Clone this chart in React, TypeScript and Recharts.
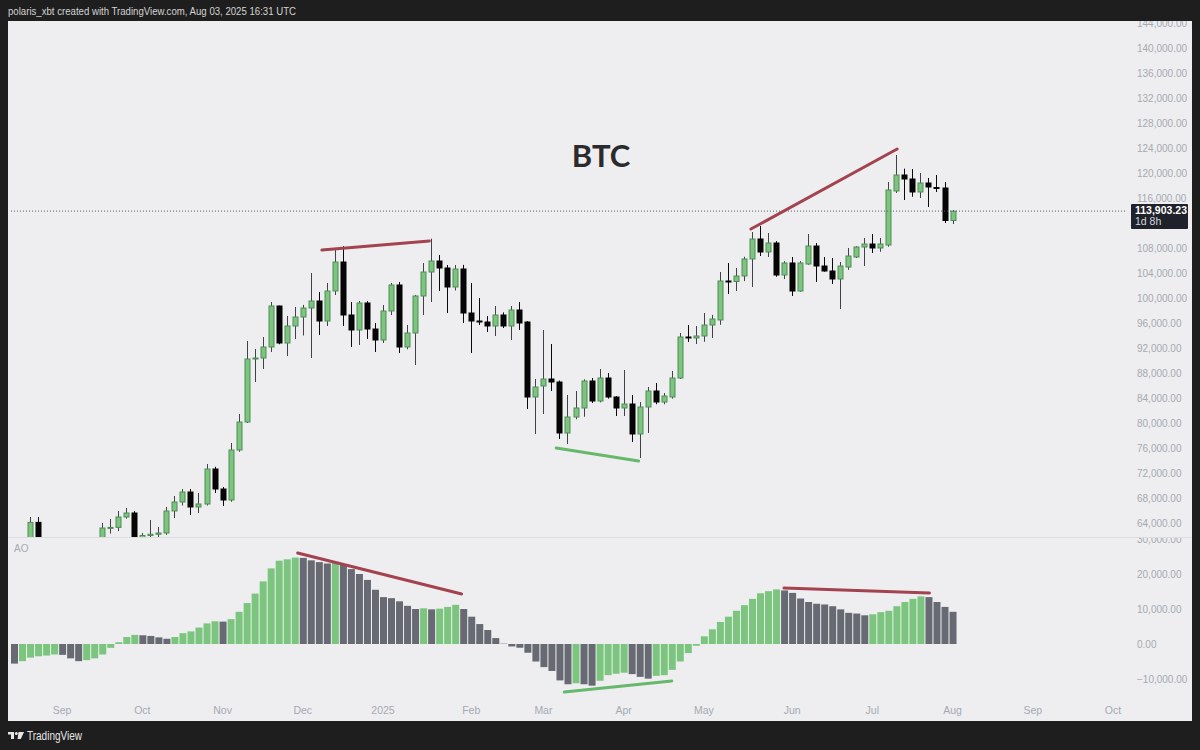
import React from 'react';
import { ComposedChart, Bar, XAxis, YAxis, ReferenceLine, Cell } from 'recharts';

// 3-day BTC candles, first one opens 2024-08-16
const OPEN = [
  57600, 58400, 61200, 64100, 59400, 59100, 59100, 56200, 54900, 57600,
  60000, 60300, 63200, 63300, 64960, 65600, 60600, 62000, 62200, 62400,
  65920, 67360, 68960, 66560, 67040, 72640, 69440, 67680, 75680, 80160,
  90240, 90400, 92160, 98720, 92800, 95520, 96960, 98400, 99520, 96320,
  101120, 105760, 97280, 94880, 99200, 95040, 93280, 97920, 102080, 92160,
  94400, 100320, 104160, 105920, 104800, 101760, 104640, 97600, 96320, 96160,
  95520, 97280, 95520, 98080, 96160, 84160, 85920, 87040, 86560, 78400,
  80960, 82400, 86720, 83520, 87200, 84160, 82400, 83040, 78240, 82560,
  85120, 83360, 84160, 87200, 93760, 93600, 93920, 95680, 96480, 102720,
  102640, 103520, 106240, 109440, 107360, 108800, 103680, 105600, 101120, 105440,
  108320, 105120, 104320, 103040, 104960, 106560, 108160, 108640, 108000, 108480,
  117120, 119680, 119040, 116960, 118400, 117680, 117600, 112400,
];
const HIGH = [
  60200, 61500, 64960, 64960, 61200, 59400, 59800, 56900, 58000, 60700,
  61400, 64000, 64640, 65920, 66400, 65900, 62400, 64480, 63360, 66560,
  68320, 69440, 69440, 68800, 73440, 73000, 69760, 76800, 81440, 93120,
  91840, 93760, 99360, 98800, 97120, 98560, 98900, 104000, 100960, 102400,
  108000, 108300, 99360, 99520, 99500, 96000, 98880, 102400, 102560, 95680,
  100480, 105600, 109500, 106880, 105280, 105280, 105300, 102400, 100000, 97100,
  98720, 97700, 98720, 99360, 96300, 87040, 94880, 92640, 86800, 84480,
  85120, 87000, 87200, 88640, 88000, 84300, 88480, 84480, 83360, 85760,
  86400, 84800, 88320, 94400, 95680, 95520, 97600, 97300, 104160, 105600,
  104800, 106600, 110560, 111520, 110400, 109100, 105900, 106560, 105900, 110240,
  108800, 106560, 106400, 105760, 108000, 108300, 109600, 110240, 109600, 118560,
  122880, 120700, 120640, 120000, 119200, 119680, 118560, 114080,
];
const LOW = [
  57100, 58000, 60800, 58200, 57900, 57200, 55600, 52600, 54600, 57400,
  57600, 59400, 62300, 62700, 64700, 60200, 59900, 61700, 60300, 62100,
  64800, 66800, 65280, 65600, 66800, 68800, 66720, 67400, 75400, 80000,
  86560, 88640, 91360, 92600, 90720, 93440, 94000, 90400, 94080, 95520,
  100480, 95520, 92160, 92480, 93440, 91360, 92800, 97280, 91200, 91800,
  89280, 97280, 99360, 101120, 97600, 101200, 96000, 91200, 95680, 94560,
  93920, 95200, 93280, 94880, 82240, 78240, 81440, 85120, 77440, 76640,
  80600, 81000, 83200, 83300, 83900, 81120, 81120, 76960, 74400, 78400,
  83000, 83000, 83900, 87040, 92960, 92640, 93000, 93600, 95700, 100640,
  101120, 102700, 101760, 106720, 106560, 103400, 103040, 100320, 101000, 105300,
  102560, 104200, 102240, 98240, 104500, 106400, 105120, 107200, 107400, 108200,
  116800, 115680, 116200, 116000, 114560, 116960, 112000, 111840,
];
const CLOSE = [
  58400, 61200, 64100, 59400, 59100, 59100, 56200, 54900, 57600, 60000,
  60300, 63200, 63300, 64960, 65600, 60600, 62000, 62200, 62400, 65920,
  67360, 68960, 66560, 67040, 72640, 69440, 67680, 75680, 80160, 90240,
  90400, 92160, 98720, 92800, 95520, 96960, 98400, 99520, 96320, 101120,
  105760, 97280, 94880, 99200, 95040, 93280, 97920, 102080, 92160, 94400,
  100320, 104160, 105920, 104800, 101760, 104640, 97600, 96320, 96160, 95520,
  97280, 95520, 98080, 96000, 84160, 85760, 87040, 86560, 78400, 80960,
  82400, 86720, 83520, 87200, 84160, 82400, 83040, 78240, 82560, 85120,
  83360, 84320, 87200, 93760, 93600, 93920, 95680, 96640, 102720, 102640,
  103520, 106240, 109440, 107360, 108800, 103680, 105600, 101120, 105600, 108320,
  105120, 104320, 103040, 105120, 106720, 108160, 108640, 108000, 108640, 117280,
  119680, 119040, 116960, 118400, 117760, 117600, 112400, 113903.23,
];

// Awesome Oscillator values, one per candle
const AO = [
  -5600, -4900, -3900, -3500, -3300, -3000, -3100, -4100, -4900, -4600,
  -4100, -3000, -1100, 500, 2000, 2600, 2500, 2300, 1900, 1500,
  2000, 3100, 3600, 4700, 5900, 6500, 6400, 7100, 9200, 11700,
  14400, 17900, 21600, 23800, 24200, 24700, 24600, 23900, 23400, 23000,
  23200, 22800, 21400, 20000, 18300, 15500, 13400, 13100, 12200, 10900,
  10000, 10200, 9900, 10100, 10600, 11200, 10000, 7800, 5700, 4000,
  1700, 100, -700, -1100, -2500, -5000, -6600, -7700, -10400, -11500,
  -11200, -11500, -11900, -10500, -8900, -8500, -8200, -8600, -9400, -9900,
  -9100, -8900, -7400, -5000, -2600, -500, 2200, 4200, 6300, 7800,
  9500, 11100, 12900, 14500, 15100, 15600, 15300, 14600, 13000, 12000,
  11500, 11300, 10800, 9900, 8900, 8700, 8200, 8500, 9100, 9500,
  10800, 12000, 12900, 13600, 13400, 12000, 10600, 9200,
];

const LAST_PRICE = 113903.23;
const LAST_PRICE_LABEL = '113,903.23';
const COUNTDOWN = '1d 8h';

const PRICE_TICKS = [
  64000, 68000, 72000, 76000, 80000, 84000, 88000, 92000, 96000, 100000, 104000,
  108000, 116000, 120000, 124000, 128000, 132000, 136000, 140000, 144000,
];
const AO_TICKS = [-10000, 0, 10000, 20000, 30000];

const MONTH_STARTS = [
  [2024, 8], [2024, 9], [2024, 10], [2024, 11], [2025, 0], [2025, 1], [2025, 2],
  [2025, 3], [2025, 4], [2025, 5], [2025, 6], [2025, 7], [2025, 8], [2025, 9],
];
const MONTH_LABELS = ['Sep', 'Oct', 'Nov', 'Dec', '2025', 'Feb', 'Mar', 'Apr', 'May', 'Jun', 'Jul', 'Aug', 'Sep', 'Oct'];

// trend lines, x in bar index units
const PRICE_LINES = [
  { x1: 38.6, y1: 107680, x2: 51.9, y2: 109120, color: '#a3434f' },
  { x1: 91.7, y1: 111040, x2: 109.8, y2: 123840, color: '#a3434f' },
  { x1: 67.6, y1: 76000, x2: 77.8, y2: 73920, color: '#66b86a' },
];
const AO_LINES = [
  { x1: 35.6, y1: 26000, x2: 55.9, y2: 14290, color: '#a3434f' },
  { x1: 95.8, y1: 16000, x2: 113.8, y2: 14570, color: '#a3434f' },
  { x1: 68.6, y1: -13710, x2: 81.9, y2: -10570, color: '#66b86a' },
];

const START = Date.UTC(2024, 7, 16);
const DAY = 86400000;
const SLOTS = 139;

const rows = Array.from({ length: SLOTS }, (_, i) => {
  const t = START + i * 3 * DAY;
  const date = new Date(t).toISOString().slice(0, 10);
  if (i >= OPEN.length) return { date, t };
  return {
    date,
    t,
    open: OPEN[i],
    high: HIGH[i],
    low: LOW[i],
    close: CLOSE[i],
    ao: AO[i],
    aoUp: i > 0 && AO[i] > AO[i - 1],
  };
});

const monthTickMap = new Map<string, string>();
MONTH_STARTS.forEach(([y, m], k) => {
  const ms = Date.UTC(y, m, 1);
  const row = rows.find((r) => r.t >= ms);
  if (row) monthTickMap.set(row.date, MONTH_LABELS[k]);
});
const MONTH_TICKS = Array.from(monthTickMap.keys());

const AXIS_TEXT = '#a6a9b0';
const FONT = '"Liberation Sans", Arial, sans-serif';
const GREEN = '#7cc57f';
const GREEN_EDGE = '#4e8c56';
const GREY_BAR = '#676a72';

const fmt = (v: number) =>
  v.toLocaleString('en-US', { minimumFractionDigits: 2, maximumFractionDigits: 2 }).replace('-', '\u2212');

function Candle(props: any) {
  const { x, y, width, height, payload } = props;
  if (!payload || payload.open == null || !Number.isFinite(y) || !Number.isFinite(height)) return <g />;
  const top = Math.min(y, y + height);
  const bot = Math.max(y, y + height);
  const span = payload.high - payload.low || 1;
  const toY = (v: number) => top + ((payload.high - v) / span) * (bot - top);
  const up = payload.close >= payload.open;
  const bTop = toY(Math.max(payload.open, payload.close));
  const bBot = toY(Math.min(payload.open, payload.close));
  const cx = Math.round(x + width / 2) + 0.5;
  const h = Math.max(1, bBot - bTop);
  return (
    <g>
      <line x1={cx} x2={cx} y1={top} y2={bot} stroke={up ? '#3f4347' : '#0a0a0a'} strokeWidth={1} />
      <rect
        x={cx - 2.5}
        y={bTop}
        width={5}
        height={h}
        fill={up ? GREEN : '#050505'}
        stroke={up ? GREEN_EDGE : '#050505'}
        strokeWidth={1}
      />
    </g>
  );
}

function PriceTag(props: any) {
  const vb = props.viewBox || {};
  const bx = vb.x + vb.width + 6;
  const by = vb.y - 7;
  return (
    <g>
      <rect x={bx} y={by} width={57} height={25} rx={1} fill="#1f222b" />
      <text x={bx + 4} y={by + 10} fill="#ffffff" fontSize={10.5} fontFamily={FONT} fontWeight={700}>
        {LAST_PRICE_LABEL}
      </text>
      <text x={bx + 4} y={by + 21} fill="#d6d8dd" fontSize={10.5} fontFamily={FONT}>
        {COUNTDOWN}
      </text>
    </g>
  );
}

export default function App() {
  const tick = { fill: AXIS_TEXT, fontSize: 10, fontFamily: FONT };
  const xTick = { fill: AXIS_TEXT, fontSize: 10.5, fontFamily: FONT };
  return (
    <div style={{ position: 'absolute', left: 0, top: 0, width: 1200, height: 750, background: '#1e1e1e', overflow: 'hidden' }}>
      <div style={{ position: 'absolute', left: 8, top: 21, width: 1184, height: 700, background: '#eeeef0' }} />

      {/* price pane */}
      <div style={{ position: 'absolute', left: 8, top: 21 }}>
        <ComposedChart width={1184} height={516} data={rows} margin={{ top: 0, right: 0, bottom: 0, left: 2 }}>
          <XAxis dataKey="date" hide />
          <XAxis xAxisId="idx" type="number" domain={[-0.5, SLOTS - 0.5]} hide allowDataOverflow />
          <YAxis
            orientation="right"
            domain={[61760, 144320]}
            ticks={PRICE_TICKS}
            interval={0}
            allowDataOverflow
            width={67}
            axisLine={false}
            tickLine={false}
            tickMargin={6}
            tick={tick}
            tickFormatter={fmt}
          />
          <Bar
            dataKey={(d: any) => (d.open == null ? null : [d.low, d.high])}
            barSize={6}
            shape={(p: any) => <Candle {...p} />}
            isAnimationActive={false}
          />
          <ReferenceLine y={LAST_PRICE} stroke="#5a5d66" strokeDasharray="1 2" label={<PriceTag />} />
          {PRICE_LINES.map((l, i) => (
            <ReferenceLine
              key={i}
              xAxisId="idx"
              segment={[{ x: l.x1, y: l.y1 }, { x: l.x2, y: l.y2 }]}
              stroke={l.color}
              strokeWidth={3}
              strokeLinecap="round"
            />
          ))}
        </ComposedChart>
      </div>

      {/* AO pane */}
      <div style={{ position: 'absolute', left: 8, top: 537 }}>
        <ComposedChart width={1184} height={184} data={rows} margin={{ top: 0, right: 0, bottom: 0, left: 2 }}>
          <XAxis
            dataKey="date"
            ticks={MONTH_TICKS}
            interval={0}
            height={24}
            axisLine={false}
            tickLine={false}
            tickMargin={4}
            tick={xTick}
            tickFormatter={(v: string) => monthTickMap.get(v) || ''}
          />
          <XAxis xAxisId="idx" type="number" domain={[-0.5, SLOTS - 0.5]} hide allowDataOverflow />
          <YAxis
            orientation="right"
            domain={[-15140, 30570]}
            ticks={AO_TICKS}
            interval={0}
            allowDataOverflow
            width={67}
            axisLine={false}
            tickLine={false}
            tickMargin={6}
            tick={tick}
            tickFormatter={fmt}
          />
          <Bar dataKey="ao" barSize={7} isAnimationActive={false}>
            {rows.map((r: any, i) => (
              <Cell key={i} fill={r.aoUp ? GREEN : GREY_BAR} />
            ))}
          </Bar>
          {AO_LINES.map((l, i) => (
            <ReferenceLine
              key={i}
              xAxisId="idx"
              segment={[{ x: l.x1, y: l.y1 }, { x: l.x2, y: l.y2 }]}
              stroke={l.color}
              strokeWidth={3}
              strokeLinecap="round"
            />
          ))}
        </ComposedChart>
      </div>

      <svg width={1200} height={750} style={{ position: 'absolute', left: 0, top: 0, pointerEvents: 'none' }}>
        <line x1={8} x2={1192} y1={537.5} y2={537.5} stroke="#dddde1" strokeWidth={1} />
        <text x={8} y={15} fill="#d4d4d4" fontSize={10} fontFamily={FONT} textLength={288} lengthAdjust="spacingAndGlyphs">
          polaris_xbt created with TradingView.com, Aug 03, 2025 16:31 UTC
        </text>
        <text x={601} y={167} textAnchor="middle" fill="#2b2b2d" fontSize={31} fontWeight={700} fontFamily="Lato, sans-serif">
          BTC
        </text>
        <text x={14} y={552} fill={AXIS_TEXT} fontSize={10} fontFamily={FONT}>
          AO
        </text>
        <g fill="#e6e6e6">
          <rect x={8} y={732} width={6} height={2.5} />
          <rect x={11} y={732} width={3} height={7} />
          <circle cx={16.3} cy={733.5} r={1.5} />
          <polygon points="18.5,732 24,732 20.8,739 17.6,739" />
        </g>
        <text x={27} y={740} fill="#e6e6e6" fontSize={12} fontFamily={FONT} textLength={55} lengthAdjust="spacingAndGlyphs">
          TradingView
        </text>
      </svg>
    </div>
  );
}
